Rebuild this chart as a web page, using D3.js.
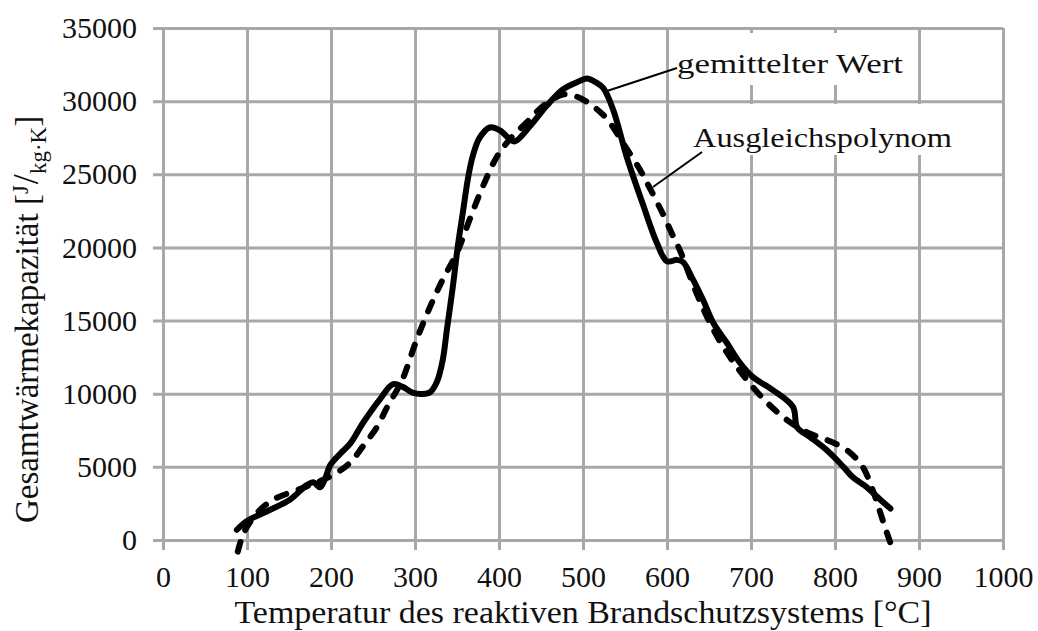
<!DOCTYPE html>
<html>
<head>
<meta charset="utf-8">
<script src="https://cdn.jsdelivr.net/npm/d3@7"></script>
<style>
  html, body { margin: 0; padding: 0; background: #fff; }
  svg { display: block; }
  text { font-family: "Liberation Serif", "Times New Roman", serif; fill: #111; }
</style>
</head>
<body>
<svg id="chart" width="1038" height="631"></svg>
<script>
// Temperature axis ticks [°C] and heat capacity ticks [J/(kg·K)]
const xTicks = [0, 100, 200, 300, 400, 500, 600, 700, 800, 900, 1000];
const yTicks = [0, 5000, 10000, 15000, 20000, 25000, 30000, 35000];

// Averaged measured values (gemittelter Wert)
const avgTemp = [88, 100, 127, 151, 171, 179, 187, 193, 199, 211, 223, 238, 258, 274, 286, 298, 312, 318, 326, 333, 338, 345, 351, 357, 363, 369, 377, 389, 401, 413, 419, 437, 457, 476, 493, 505, 515, 524, 536, 552, 571, 588, 600, 612, 619, 631, 643, 655, 671, 687, 702, 726, 750, 755, 770, 790, 810, 821, 838, 854, 866];
const avgCap  = [700, 1300, 2050, 2750, 3750, 3950, 3600, 4200, 5100, 5900, 6600, 8000, 9600, 10650, 10450, 10050, 10000, 10100, 10800, 12300, 14400, 17300, 20100, 22400, 24700, 26300, 27500, 28200, 28000, 27400, 27250, 28300, 29700, 30800, 31300, 31550, 31300, 30900, 29400, 26200, 23000, 20300, 19050, 19150, 19000, 17800, 16400, 14850, 13500, 12100, 11150, 10250, 9100, 7700, 7050, 6150, 5000, 4300, 3600, 2750, 2150];

// Fitted polynomial (Ausgleichspolynom)
const fitTemp = [89, 93, 98, 112, 131, 159, 175, 190, 207, 223, 238, 255, 267, 279, 286, 302, 318, 333, 350, 365, 381, 398, 413, 433, 452, 476, 493, 512, 529, 548, 568, 580, 595, 607, 615, 635, 655, 675, 695, 719, 743, 767, 790, 814, 833, 845, 854, 860, 866];
const fitCap  = [-800, 0, 700, 1850, 2750, 3400, 3750, 4100, 4600, 5300, 6400, 7750, 9100, 10300, 11100, 13700, 15950, 17800, 19650, 21900, 24200, 26250, 27400, 28550, 29650, 30450, 30300, 29650, 28750, 27100, 25300, 24000, 22300, 20800, 19850, 16900, 14400, 12500, 10950, 9400, 8200, 7350, 6850, 6150, 5000, 3400, 1850, 800, -200];

const margin = { left: 163, top: 28, right: 35, bottom: 91 };
const W = 1038, H = 631;
const w = W - margin.left - margin.right;
const h = H - margin.top - margin.bottom;

const svg = d3.select("#chart");
const g = svg.append("g").attr("transform", `translate(${margin.left},${margin.top})`);

const x = d3.scaleLinear().domain([0, 1000]).range([0, w]);
const y = d3.scaleLinear().domain([0, 35000]).range([h, 0]);

const gridColor = "#a8a8a8";
const tickOut = 10;

// Vertical grid lines with outward ticks and labels
const gx = g.append("g")
  .attr("transform", `translate(0,${h + tickOut})`)
  .call(d3.axisBottom(x).tickValues(xTicks).tickSizeInner(-(h + tickOut)).tickSizeOuter(0).tickPadding(16).tickFormat(d3.format("d")));
gx.select(".domain").remove();
gx.selectAll("line").attr("stroke", gridColor).attr("stroke-width", 3);
gx.selectAll("text").style("font-size", "30px").style("font-family", '"Liberation Serif", serif').attr("fill", "#111");

// Horizontal grid lines with outward ticks and labels
const gy = g.append("g")
  .attr("transform", `translate(${-tickOut},0)`)
  .call(d3.axisLeft(y).tickValues(yTicks).tickSizeInner(-(w + tickOut)).tickSizeOuter(0).tickPadding(16).tickFormat(d3.format("d")));
gy.select(".domain").remove();
gy.selectAll("line").attr("stroke", gridColor).attr("stroke-width", 3);
gy.selectAll("text").style("font-size", "30px").style("font-family", '"Liberation Serif", serif').attr("fill", "#111");

// Label boxes hide the grid underneath
const labels = [
  { text: "gemittelter Wert", tx: 677, ty: 73, len: 226, box: [673, 33, 234, 52], lead: [[607, 91], [677, 68]] },
  { text: "Ausgleichspolynom", tx: 693, ty: 147, len: 259, box: [689, 104, 266, 51], lead: [[653, 187], [702, 152]] }
];
svg.selectAll("rect.lblbox").data(labels).enter().append("rect")
  .attr("class", "lblbox")
  .attr("x", d => d.box[0]).attr("y", d => d.box[1])
  .attr("width", d => d.box[2]).attr("height", d => d.box[3])
  .attr("fill", "#fff");

const line = (xs, ys) => d3.line()
  .x(i => x(xs[i])).y(i => y(ys[i]))
  .curve(d3.curveCatmullRom.alpha(0.5))(d3.range(xs.length));

// Fitted polynomial, dashed
g.append("path")
  .attr("d", line(fitTemp, fitCap))
  .attr("fill", "none").attr("stroke", "#000").attr("stroke-width", 6)
  .attr("stroke-dasharray", "10,13").attr("stroke-linecap", "round");

// Averaged curve, solid
g.append("path")
  .attr("d", line(avgTemp, avgCap))
  .attr("fill", "none").attr("stroke", "#000").attr("stroke-width", 6)
  .attr("stroke-linejoin", "round").attr("stroke-linecap", "round");

// Leader lines and annotation text
svg.selectAll("line.lead").data(labels).enter().append("line")
  .attr("class", "lead")
  .attr("x1", d => d.lead[0][0]).attr("y1", d => d.lead[0][1])
  .attr("x2", d => d.lead[1][0]).attr("y2", d => d.lead[1][1])
  .attr("stroke", "#000").attr("stroke-width", 2);
svg.selectAll("text.lbl").data(labels).enter().append("text")
  .attr("class", "lbl")
  .attr("x", d => d.tx).attr("y", d => d.ty)
  .attr("textLength", d => d.len).attr("lengthAdjust", "spacingAndGlyphs")
  .style("font-size", "28px")
  .text(d => d.text);

// Axis titles
svg.append("text")
  .attr("x", 583).attr("y", 623)
  .attr("text-anchor", "middle")
  .attr("textLength", 697).attr("lengthAdjust", "spacingAndGlyphs")
  .style("font-size", "31px")
  .text("Temperatur des reaktiven Brandschutzsystems [°C]");

const yt = svg.append("text")
  .attr("transform", "translate(38,523) rotate(-90)")
  .attr("x", 0).attr("y", 0)
  .style("font-size", "33px");
yt.append("tspan").text("Gesamtwärmekapazität [");
yt.append("tspan").attr("dy", -10).style("font-size", "23px").text("J");
yt.append("tspan").attr("dy", 10).attr("dx", 1).style("font-size", "36px").text("/");
yt.append("tspan").attr("dy", 8).style("font-size", "23px").text("kg·K");
yt.append("tspan").attr("dy", -8).text("]");
</script>
</body>
</html>
